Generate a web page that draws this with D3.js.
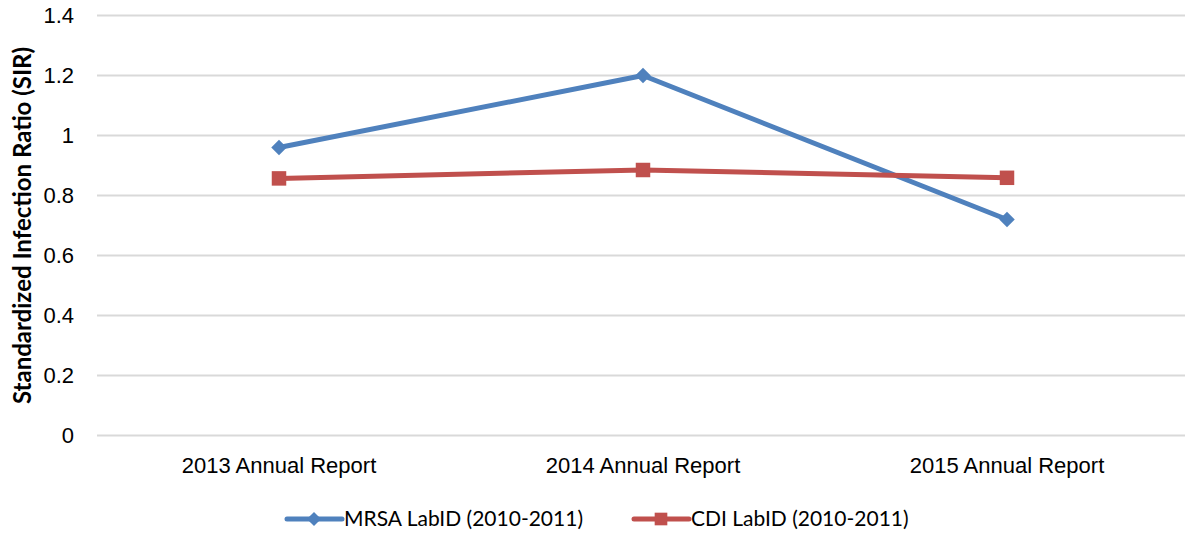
<!DOCTYPE html>
<html>
<head>
<meta charset="utf-8">
<script src="https://cdn.jsdelivr.net/npm/d3@7"></script>
<style>
  body { margin: 0; background: #fff; }
  svg { font-family: Lato, "Open Sans", sans-serif; }
  .grid line { stroke: #d9d9d9; stroke-width: 2; }
  .tick text { fill: #000; font-size: 22px; }
  .title { font-size: 24px; font-weight: bold; }
  .legend text { font-size: 21px; }
</style>
</head>
<body>
<svg width="1185" height="536"></svg>
<script>
// data
const categories = ["2013 Annual Report", "2014 Annual Report", "2015 Annual Report"]
const mrsa = [0.96, 1.2, 0.72]
const cdi = [0.857, 0.885, 0.859]
const yTicks = [0, 0.2, 0.4, 0.6, 0.8, 1, 1.2, 1.4]
const seriesNames = ["MRSA LabID (2010-2011)", "CDI LabID (2010-2011)"]

const series = [
  { name: seriesNames[0], values: mrsa, color: "#4f81bd", marker: "diamond" },
  { name: seriesNames[1], values: cdi, color: "#c0504d", marker: "square" }
]

const svg = d3.select("svg")

const margin = { left: 97, right: 0, top: 15.5, bottom: 100.5 }
const width = 1189 - margin.left
const height = 536 - margin.top - margin.bottom

const x = d3.scaleBand()
  .domain(categories)
  .range([margin.left, margin.left + width])

const y = d3.scaleLinear()
  .domain([0, 1.4])
  .range([margin.top + height, margin.top])

// gridlines
svg.append("g")
  .attr("class", "grid")
  .selectAll("line")
  .data(yTicks)
  .enter()
  .append("line")
  .attr("x1", margin.left)
  .attr("x2", 1185)
  .attr("y1", d => y(d))
  .attr("y2", d => y(d))

// y axis labels
const yAxis = svg.append("g")
  .attr("transform", `translate(${margin.left - 13},0)`)
  .call(d3.axisLeft(y).tickValues(yTicks).tickSize(0).tickPadding(10).tickFormat(d3.format("")))
yAxis.select(".domain").remove()

// x axis labels
const xAxis = svg.append("g")
  .attr("transform", `translate(0,${margin.top + height + 10})`)
  .call(d3.axisBottom(x).tickSize(0).tickPadding(12))
xAxis.select(".domain").remove()

// y title
svg.append("text")
  .attr("class", "title")
  .attr("transform", `translate(31,${margin.top + height / 2}) rotate(-90)`)
  .attr("text-anchor", "middle")
  .text("Standardized Infection Ratio (SIR)")

const line = d3.line()
  .x((d, i) => x(categories[i]) + x.bandwidth() / 2)
  .y(d => y(d))

// diamond = square turned 45 degrees
const marker = (m, size) => d3.symbol().type(d3.symbolSquare).size(size)()
const turn = m => m == "diamond" ? " rotate(45)" : ""

series.forEach(s => {
  svg.append("path")
    .datum(s.values)
    .attr("d", line)
    .attr("fill", "none")
    .attr("stroke", s.color)
    .attr("stroke-width", 5)
    .attr("stroke-linejoin", "round")

  svg.selectAll(null)
    .data(s.values)
    .enter()
    .append("path")
    .attr("d", marker(s.marker, s.marker == "diamond" ? 120 : 210))
    .attr("transform", (d, i) => `translate(${x(categories[i]) + x.bandwidth() / 2},${y(d)})` + turn(s.marker))
    .attr("fill", s.color)
})

// legend
const legendX = [287, 634]
const legend = svg.selectAll("g.legend")
  .data(series)
  .enter()
  .append("g")
  .attr("class", "legend")
  .attr("transform", (d, i) => `translate(${legendX[i]},519)`)

legend.append("line")
  .attr("x1", 0)
  .attr("x2", 55)
  .attr("stroke", d => d.color)
  .attr("stroke-width", 5)
  .attr("stroke-linecap", "round")

legend.append("path")
  .attr("d", d => marker(d.marker, d.marker == "diamond" ? 100 : 160))
  .attr("transform", d => "translate(27,0)" + turn(d.marker))
  .attr("fill", d => d.color)

legend.append("text")
  .attr("x", 57)
  .attr("dy", "0.35em")
  .text(d => d.name)
</script>
</body>
</html>
